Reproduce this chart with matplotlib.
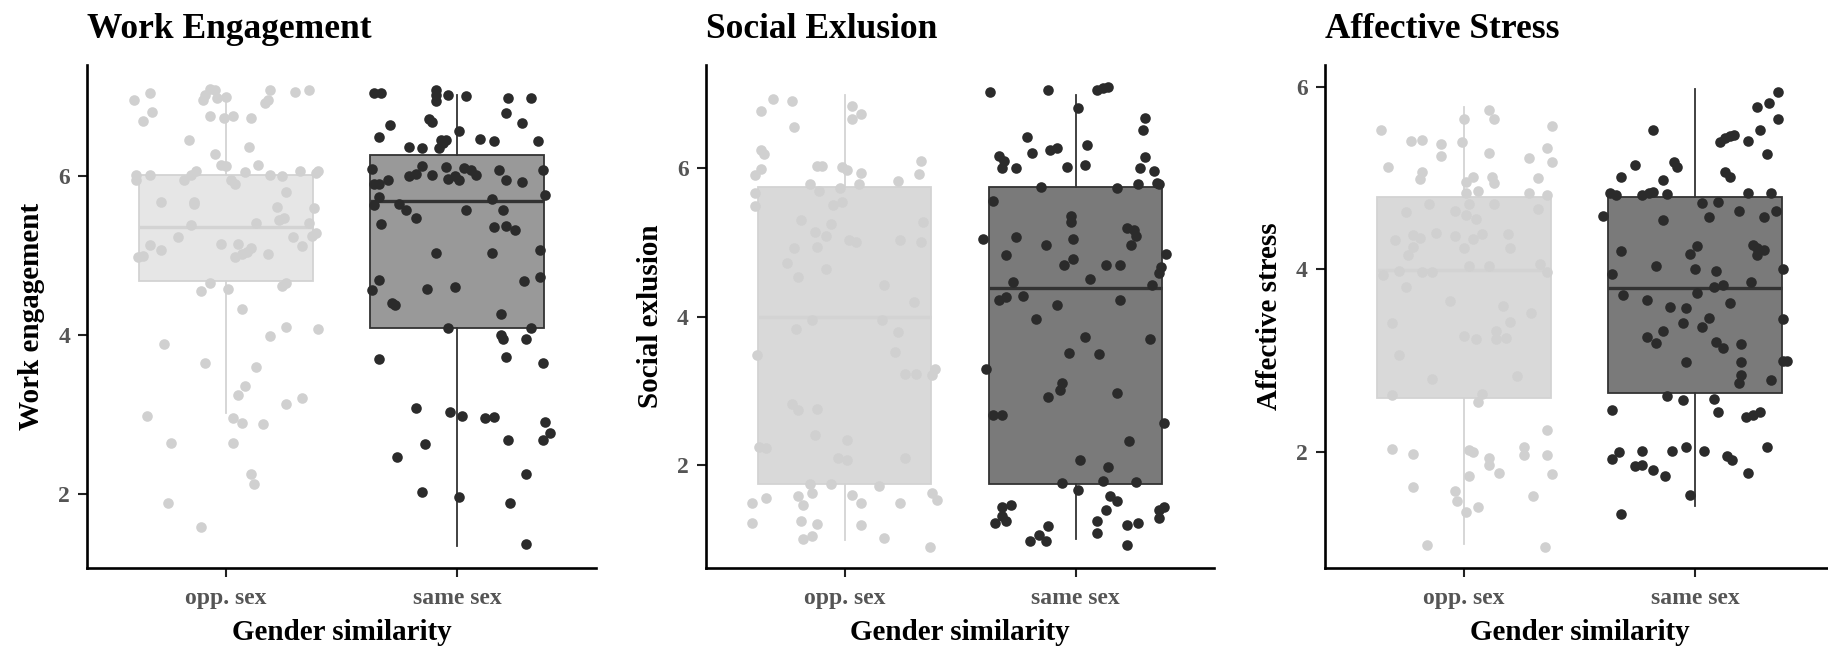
import numpy as np
import matplotlib
matplotlib.use("Agg")
import matplotlib.pyplot as plt

plt.rcParams["font.family"] = ["Liberation Serif", "DejaVu Serif"]
plt.rcParams["font.weight"] = "bold"

groups = ["opp. sex", "same sex"]
titles = ["Work Engagement", "Social Exlusion", "Affective Stress"]
ylabels = ["Work engagement", "Social exlusion", "Affective stress"]

# ---- Work engagement ----
we_opp = [6.95, 7.04, 6.80, 6.68, 7.09, 7.08, 6.95, 7.01, 6.97, 6.99,
          7.07, 6.95, 6.91, 7.05, 7.07, 6.75, 6.72, 6.75, 6.73, 6.45,
          6.36, 6.27, 6.13, 6.12, 6.13, 6.01, 5.94, 6.01, 5.94, 6.01,
          6.06, 5.94, 5.89, 6.05, 6.01, 5.99, 6.06, 6.06, 6.03, 5.67,
          5.67, 5.64, 5.80, 5.61, 5.59, 5.44, 5.47, 5.41, 5.38, 5.40,
          5.28, 5.24, 5.23, 5.11, 5.23, 5.13, 5.07, 4.98, 4.99, 5.14,
          5.14, 5.09, 4.98, 5.02, 5.04, 5.02, 4.65, 4.55, 4.58, 4.61,
          4.65, 4.32, 4.10, 3.98, 4.07, 3.88, 3.64, 3.60, 3.36, 3.24,
          3.13, 3.21, 2.98, 2.95, 2.89, 2.88, 2.64, 2.64, 2.25, 2.12, 1.89, 1.58]
we_opp_jit = [-0.40, -0.33, -0.32, -0.36, -0.07, -0.05, -0.10, -0.09, -0.04, 0.00,
              0.19, 0.18, 0.17, 0.30, 0.36, -0.07, -0.01, 0.03, 0.11, -0.16,
              0.10, -0.05, -0.02, 0.00, 0.14, -0.39, -0.39, -0.33, -0.18, -0.15,
              -0.13, 0.02, 0.04, 0.08, 0.19, 0.24, 0.32, 0.40, 0.39, -0.28,
              -0.14, -0.14, 0.26, 0.22, 0.38, 0.23, 0.25, 0.13, -0.15, 0.36,
              0.39, 0.37, 0.29, 0.33, -0.21, -0.33, -0.28, -0.38, -0.36, -0.02,
              0.05, 0.11, 0.04, 0.07, 0.09, 0.18, -0.07, -0.11, 0.01, 0.24,
              0.26, 0.07, 0.26, 0.19, 0.40, -0.27, -0.09, 0.13, 0.08, 0.05,
              0.26, 0.33, -0.34, 0.03, 0.07, 0.16, -0.24, 0.03, 0.11, 0.12, -0.25, -0.11]
we_same = [7.04, 7.04, 7.07, 7.01, 6.94, 7.01, 7.00, 6.97, 6.97, 6.79,
           6.66, 6.63, 6.71, 6.67, 6.56, 6.48, 6.45, 6.45, 6.41, 6.46,
           6.43, 6.43, 6.36, 6.35, 6.35, 6.08, 5.90, 5.89, 5.94, 5.99,
           6.02, 6.12, 6.01, 6.11, 5.96, 5.99, 5.94, 6.10, 6.07, 6.01,
           6.07, 5.95, 5.92, 6.07, 5.73, 5.63, 5.64, 5.57, 5.47, 5.57,
           5.70, 5.57, 5.76, 5.39, 5.36, 5.37, 5.32, 5.03, 5.03, 5.06,
           4.56, 4.69, 4.58, 4.60, 4.68, 4.72, 4.40, 4.37, 4.26, 4.09,
           4.09, 4.00, 3.95, 3.95, 3.69, 3.72, 3.65, 3.08, 3.03, 2.98,
           2.95, 2.97, 2.90, 2.76, 2.68, 2.63, 2.68, 2.46, 2.25, 2.02, 1.96, 1.88, 1.37]
we_same_jit = [-0.36, -0.33, -0.09, -0.09, -0.09, -0.04, 0.04, 0.22, 0.32, 0.21,
               0.28, -0.29, -0.12, -0.11, 0.01, -0.34, -0.07, -0.05, -0.06, 0.10,
               0.16, 0.35, -0.21, -0.15, -0.08, -0.37, -0.36, -0.34, -0.30, -0.21,
               -0.18, -0.15, -0.11, -0.05, -0.04, -0.01, 0.01, 0.03, 0.06, 0.08,
               0.18, 0.21, 0.28, 0.37, -0.34, -0.36, -0.25, -0.22, -0.18, 0.04,
               0.15, 0.20, 0.38, -0.33, 0.16, 0.21, 0.25, -0.09, 0.15, 0.36,
               -0.37, -0.34, -0.13, -0.01, 0.29, 0.36, -0.28, -0.27, 0.19, -0.04,
               0.32, 0.19, 0.20, 0.30, -0.34, 0.21, 0.37, -0.18, -0.03, 0.02,
               0.12, 0.16, 0.38, 0.40, 0.37, -0.14, 0.22, -0.26, 0.30, -0.15, 0.01, 0.23, 0.30]

# ---- Social exclusion ----
se_opp = [6.93, 6.91, 6.77, 6.55, 6.84, 6.73, 6.66, 6.24, 6.19, 5.99,
          5.91, 6.03, 6.03, 6.02, 5.97, 5.93, 6.09, 5.92, 5.83, 5.78,
          5.69, 5.73, 5.78, 5.67, 5.49, 5.51, 5.54, 5.30, 5.25, 5.14,
          5.08, 4.94, 4.92, 5.03, 5.00, 5.03, 5.28, 5.01, 4.72, 4.54,
          4.64, 4.43, 4.20, 3.96, 3.96, 3.83, 3.79, 3.48, 3.52, 3.22,
          3.22, 3.21, 3.30, 2.82, 2.74, 2.76, 2.41, 2.34, 2.24, 2.23,
          2.09, 2.09, 2.07, 1.75, 1.72, 1.55, 1.49, 1.58, 1.62, 1.46,
          1.62, 1.53, 1.49, 1.59, 1.49, 1.25, 1.20, 1.22, 1.19, 1.00,
          1.04, 1.02, 0.90, 1.75]
se_opp_jit = [-0.31, -0.23, -0.36, -0.22, 0.03, 0.07, 0.03, -0.36, -0.35, -0.36,
              -0.39, -0.12, -0.10, -0.01, 0.01, 0.07, 0.33, 0.32, 0.23, -0.15,
              -0.11, -0.02, 0.06, -0.39, -0.39, -0.05, -0.01, -0.19, -0.06, -0.13,
              -0.08, -0.12, -0.22, 0.02, 0.05, 0.24, 0.34, 0.33, -0.25, -0.20,
              -0.08, 0.17, 0.30, -0.14, 0.16, -0.21, 0.23, -0.38, 0.22, 0.26,
              0.31, 0.38, 0.39, -0.23, -0.20, -0.12, -0.13, 0.01, -0.37, -0.34,
              0.26, -0.03, 0.01, -0.15, 0.15, -0.34, -0.40, -0.20, -0.14, -0.18,
              0.38, 0.40, 0.07, 0.03, 0.24, -0.19, -0.12, -0.40, 0.07, -0.18,
              -0.14, 0.17, 0.37, -0.06]
se_same = [7.03, 7.05, 7.05, 7.08, 7.10, 6.81, 6.67, 6.52, 6.42, 6.31,
           6.21, 6.25, 6.27, 6.16, 6.00, 6.09, 6.00, 6.01, 6.04, 6.15,
           6.00, 5.96, 5.80, 5.79, 5.78, 5.73, 5.75, 5.56, 5.35, 5.28,
           5.20, 5.17, 5.08, 4.97, 5.05, 5.07, 5.04, 4.96, 4.83, 4.77,
           4.69, 4.70, 4.70, 4.84, 4.67, 4.59, 4.51, 4.43, 4.47, 4.23,
           4.26, 4.28, 4.16, 4.23, 3.97, 3.73, 3.70, 3.51, 3.50, 3.30,
           3.10, 3.01, 2.91, 2.97, 2.67, 2.68, 2.56, 2.32, 2.07, 1.97,
           1.76, 1.78, 1.77, 1.66, 1.58, 1.52, 1.40, 1.44, 1.46, 1.31,
           1.22, 1.24, 1.18, 1.05, 0.97, 0.98, 1.24, 1.09, 1.19, 1.22,
           1.40, 1.44, 1.28, 0.92]
se_same_jit = [-0.37, -0.12, 0.09, 0.12, 0.14, 0.01, 0.30, 0.29, -0.21, 0.05,
               -0.19, -0.11, -0.08, -0.33, -0.32, -0.31, -0.26, -0.04, 0.04, 0.30,
               0.28, 0.34, 0.35, 0.36, 0.27, 0.18, -0.15, -0.36, -0.02, -0.02,
               0.22, 0.25, 0.26, 0.24, -0.40, -0.26, -0.01, -0.13, -0.30, -0.01,
               -0.05, 0.13, 0.19, 0.39, 0.37, 0.36, 0.06, 0.33, -0.27, -0.33,
               -0.30, -0.23, -0.08, 0.19, -0.17, 0.04, 0.32, -0.03, 0.10, -0.39,
               -0.06, -0.07, -0.12, 0.18, -0.36, -0.32, 0.38, 0.23, 0.02, 0.14,
               -0.06, 0.12, 0.26, 0.01, 0.15, 0.18, 0.13, -0.32, -0.28, -0.32,
               -0.35, -0.30, -0.12, -0.16, -0.20, -0.13, 0.09, 0.09, 0.22, 0.27,
               0.36, 0.38, 0.36, 0.22]

# ---- Affective stress ----
as_opp = [5.53, 5.41, 5.42, 5.37, 5.24, 5.39, 5.65, 5.75, 5.65, 5.57,
          5.33, 5.17, 5.22, 5.27, 5.12, 5.06, 4.99, 4.96, 5.01, 5.01,
          4.95, 5.00, 4.86, 4.83, 4.84, 4.81, 4.63, 4.71, 4.64, 4.72,
          4.59, 4.55, 4.72, 4.66, 4.32, 4.37, 4.34, 4.40, 4.36, 4.33,
          4.23, 4.39, 4.39, 4.23, 4.24, 4.16, 3.94, 3.98, 3.97, 3.97,
          4.03, 4.03, 4.06, 3.97, 3.80, 3.65, 3.60, 3.42, 3.52, 3.41,
          3.27, 3.23, 3.32, 3.23, 3.25, 3.06, 2.80, 2.83, 2.62, 2.63,
          2.54, 2.24, 2.03, 1.97, 2.02, 2.00, 2.05, 1.96, 1.93, 1.85,
          1.77, 1.96, 1.76, 1.73, 1.61, 1.57, 1.46, 1.34, 1.39, 1.51, 0.98, 0.96]
as_opp_jit = [-0.36, -0.23, -0.18, -0.10, -0.10, -0.01, 0.00, 0.11, 0.13, 0.38,
              0.36, 0.38, 0.28, 0.11, -0.33, -0.18, -0.19, 0.01, 0.04, 0.12,
              0.13, 0.32, 0.06, 0.01, 0.28, 0.36, -0.25, -0.15, -0.04, 0.02,
              0.01, 0.05, 0.13, 0.32, -0.30, -0.22, -0.19, -0.12, -0.04, 0.04,
              0.00, 0.08, 0.19, 0.20, -0.22, -0.24, -0.35, -0.28, -0.18, -0.14,
              0.02, 0.11, 0.33, 0.36, -0.25, -0.06, 0.17, 0.20, 0.29, -0.31,
              0.00, 0.05, 0.14, 0.14, 0.18, -0.28, -0.14, 0.23, -0.31, 0.08,
              0.06, 0.36, -0.31, -0.22, 0.02, 0.04, 0.26, 0.26, 0.11, 0.11,
              0.15, 0.36, 0.38, 0.02, -0.22, -0.04, -0.03, 0.01, 0.06, 0.30, -0.16, 0.35]
as_same = [5.94, 5.82, 5.78, 5.65, 5.53, 5.53, 5.39, 5.44, 5.46, 5.47,
           5.40, 5.26, 5.14, 5.18, 5.12, 5.01, 4.98, 5.07, 5.01, 4.84,
           4.81, 4.81, 4.84, 4.85, 4.82, 4.84, 4.84, 4.73, 4.74, 4.58,
           4.54, 4.57, 4.64, 4.57, 4.64, 4.20, 4.17, 4.25, 4.26, 4.23,
           4.21, 4.16, 3.95, 4.03, 4.00, 3.98, 4.00, 3.80, 3.83, 3.86,
           3.74, 3.72, 3.66, 3.59, 3.58, 3.63, 3.47, 3.37, 3.41, 3.45,
           3.26, 3.19, 3.32, 3.20, 3.14, 3.18, 2.98, 2.98, 2.99, 2.99,
           2.84, 2.75, 2.79, 2.61, 2.57, 2.58, 2.46, 2.44, 2.38, 2.40,
           2.44, 1.92, 2.00, 2.01, 1.84, 1.85, 1.80, 1.73, 2.01, 2.05,
           2.01, 1.95, 1.91, 1.77, 2.05, 1.53, 1.32]
as_same_jit = [0.36, 0.32, 0.27, 0.36, -0.18, 0.28, 0.11, 0.13, 0.15, 0.17,
               0.23, 0.31, -0.26, -0.09, -0.08, -0.32, -0.14, 0.13, 0.15, -0.37,
               -0.34, -0.23, -0.20, -0.18, -0.12, 0.23, 0.33, 0.03, 0.10, -0.40,
               -0.14, 0.06, 0.19, 0.30, 0.35, -0.32, -0.02, 0.01, 0.25, 0.27,
               0.30, 0.27, -0.36, -0.17, 0.00, 0.09, 0.38, 0.08, 0.12, 0.24,
               0.01, -0.31, -0.21, -0.11, -0.04, 0.15, 0.06, 0.03, -0.05, 0.38,
               -0.21, -0.17, -0.14, 0.09, 0.12, 0.20, -0.04, 0.20, 0.38, 0.40,
               0.20, 0.19, 0.33, -0.12, -0.05, 0.08, -0.36, 0.10, 0.22, 0.25,
               0.28, -0.36, -0.33, -0.23, -0.26, -0.23, -0.18, -0.13, -0.10, -0.04,
               0.04, 0.14, 0.16, 0.23, 0.31, -0.02, -0.32]

# box summaries: whisker low, Q1, median, Q3, whisker high
we_box = [[3.02, 4.68, 5.36, 6.01, 7.01], [1.34, 4.09, 5.68, 6.26, 7.01]]
se_box = [[0.99, 1.75, 4.00, 5.75, 6.99], [1.00, 1.75, 4.38, 5.75, 6.99]]
as_box = [[0.99, 2.59, 3.99, 4.79, 5.78], [1.40, 2.64, 3.79, 4.79, 5.98]]

ylims = [(1.065, 7.39), (0.608, 7.39), (0.722, 6.238)]

points = [[(we_opp, we_opp_jit), (we_same, we_same_jit)],
          [(se_opp, se_opp_jit), (se_same, se_same_jit)],
          [(as_opp, as_opp_jit), (as_same, as_same_jit)]]
boxes = [we_box, se_box, as_box]
box_faces = [["#e6e6e6", "#999999"], ["#d9d9d9", "#7a7a7a"], ["#d9d9d9", "#7a7a7a"]]
edge_cols = ["#d3d3d3", "#333333"]
pt_cols = ["#d0d0d0", "#2b2b2b"]

W, H = 1828, 652
fig = plt.figure(figsize=(W / 100, H / 100), dpi=100)
lefts = [87.4, 706.0, 1325.3]
ax_w, ax_top, ax_bot = 508.4, 65.0, 568.3

for i in range(3):
    ax = fig.add_axes([lefts[i] / W, 1 - ax_bot / H, ax_w / W, (ax_bot - ax_top) / H])
    stats = []
    for k in range(2):
        lo, q1, med, q3, hi = boxes[i][k]
        stats.append(dict(whislo=lo, q1=q1, med=med, q3=q3, whishi=hi, fliers=[]))
    bp = ax.bxp(stats, positions=[1, 2], widths=0.75, patch_artist=True,
                showfliers=False, showcaps=False)
    for k in range(2):
        bp["boxes"][k].set_facecolor(box_faces[i][k])
        bp["boxes"][k].set_edgecolor(edge_cols[k])
        bp["boxes"][k].set_linewidth(1.3)
        bp["medians"][k].set_color(edge_cols[k])
        bp["medians"][k].set_linewidth(2.4)
        for w in bp["whiskers"][2 * k:2 * k + 2]:
            w.set_color(edge_cols[k])
            w.set_linewidth(1.3)
    for k in range(2):
        vals, jit = points[i][k]
        ax.scatter(np.array(jit) + k + 1, vals, s=58, color=pt_cols[k],
                   linewidths=0, zorder=3)

    ax.set_xlim(0.4, 2.6)
    ax.set_ylim(*ylims[i])
    ax.set_xticks([1, 2])
    ax.set_xticklabels(groups)
    ax.set_yticks([2, 4, 6])
    for s in ["top", "right"]:
        ax.spines[s].set_visible(False)
    for s in ["left", "bottom"]:
        ax.spines[s].set_linewidth(1.9)
        ax.spines[s].set_color("black")
    ax.tick_params(axis="both", length=6.5, width=1.5, color="#222222",
                   labelsize=17, labelcolor="#555555", pad=6)
    ax.tick_params(axis="x", pad=8)
    for lab in ax.get_xticklabels() + ax.get_yticklabels():
        lab.set_fontweight("bold")
    ax.set_ylabel(ylabels[i], fontsize=21, fontweight="bold")
    ax.yaxis.set_label_coords(-0.083, 0.5)
    ax.set_xlabel("Gender similarity", fontsize=21, fontweight="bold")
    ax.xaxis.set_label_coords(0.5, -0.1)
    ax.text(0, 1.053, titles[i], transform=ax.transAxes, fontsize=25.5,
            fontweight="bold", ha="left", va="baseline")

fig.savefig("out.png", dpi=100)
